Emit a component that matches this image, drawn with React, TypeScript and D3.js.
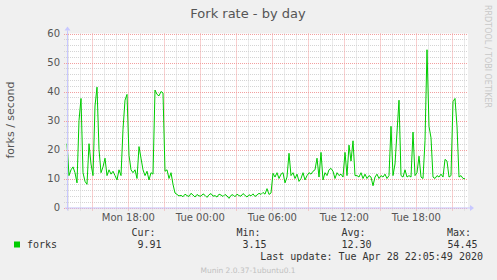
import React from "react";
import * as d3 from "d3";

// ---- data (10-minute samples starting Mon Apr 27 12:53) ----
const seriesName = "forks";
const startTime = Date.UTC(2020, 3, 27, 12, 53);
const stepMinutes = 10;
const spanMinutes = 2000;

const forksPart1 = [
  22, 11, 13, 14, 12, 8.5, 30, 37.6, 12, 9, 8, 22, 15, 11, 35, 41.5, 20, 12, 14, 17,
  11, 13, 11.5, 12.5, 11, 9.5, 13, 11, 27, 37, 39, 18, 13, 12, 13, 10, 21, 17, 13, 11,
  12.5, 9.5, 12, 11.5, 40.5, 39, 38.5, 40, 39.5, 12.5, 13, 10, 12, 8, 5, 4.5, 4,
];
const forksPart2 = [
  4.2, 3.7, 4.6, 4.1, 3.8, 4.9, 4.3, 3.6, 4.5, 4.0,
  3.9, 4.7, 4.2, 3.5, 4.4, 4.8, 3.9, 4.1, 3.6, 4.6,
  4.3, 3.8, 4.5, 4.0, 3.15, 4.2, 4.4, 3.7, 4.6, 4.1,
  3.9, 4.8, 4.2, 3.6, 4.4, 4.0, 4.7, 3.8, 4.3, 4.9,
  4.5, 5.2, 4.6,
];
const forksPart3 = [
  6.5, 4.5, 5, 11.8, 10.5, 12, 10, 11.5, 12, 8.5, 10.5, 18.7, 11, 12, 10, 11.5, 9, 10, 12, 9.5,
  11, 12, 11.5, 12.5, 13, 17, 10.5, 19, 9.5, 12, 11, 13, 13.5, 12.5, 10, 12, 11, 11.5, 10.5, 19,
  11, 21.5, 16, 23, 11, 11, 10.5, 12, 10, 11.5, 10, 11, 10.5, 7.5, 10.5, 11.5, 10, 11, 10.5, 11.5,
  10, 11, 28, 11, 15, 26, 37, 11, 10.5, 13, 10.5, 11, 10.5, 26, 11, 12, 17.7, 10.5, 10, 23,
  54.4, 28, 24, 10.5, 10, 11, 10.5, 11.5, 10.5, 16.6, 16, 10.5, 11, 36.5, 37.6, 28, 10.5, 11, 10, 9.91,
];
const forks = [...forksPart1, ...forksPart2, ...forksPart3];

const yTicks = [0, 10, 20, 30, 40, 50, 60];
const statLabels = ["Cur:", "Min:", "Avg:", "Max:"];
const statValues = ["9.91", "3.15", "12.30", "54.45"];
const title = "Fork rate - by day";
const yTitle = "forks / second";
const lastUpdate = "Last update: Tue Apr 28 22:05:49 2020";
const footer = "Munin 2.0.37-1ubuntu0.1";
const sideText = "RRDTOOL / TOBI OETIKER";

const W = 497;
const H = 280;
const left = 67;
const right = 467;
const top = 33.5;
const bottom = 207.5;

export default function App() {
  const x = d3
    .scaleUtc()
    .domain([new Date(startTime), new Date(startTime + spanMinutes * 60000)])
    .range([left, right]);
  const y = d3.scaleLinear().domain([0, 60]).range([bottom, top]);

  const points = forks.map((v, i) => ({ t: new Date(startTime + i * stepMinutes * 60000), v }));
  const line = d3
    .line<{ t: Date; v: number }>()
    .x((d) => x(d.t))
    .y((d) => y(d.v));

  const hourTicks = x.ticks(d3.utcHour.every(1)!);
  const majorTicks = hourTicks.filter((d) => d.getUTCHours() % 3 === 0);
  const minorTicks = hourTicks.filter((d) => d.getUTCHours() % 3 !== 0);
  const labelTicks = hourTicks.filter((d) => d.getUTCHours() % 6 === 0);
  const fmt = d3.utcFormat("%a %H:%M");

  const minorY = d3.range(0, 61, 2).filter((v) => v % 10 !== 0);

  const sans = "DejaVu Sans, sans-serif";
  const mono = "DejaVu Sans Mono, monospace";
  const axisColor = "#c8c8ff";
  const minorColor = "#d4d4d4";
  const majorColor = "#f2a0a0";

  const statRight = [155.5, 260.5, 365.5, 471];
  const valueRight = [161.5, 266.5, 371.5, 477.5];

  return (
    <div style={{ position: "fixed", left: 0, top: 0, width: W, height: H }}>
      <svg width={W} height={H} style={{ display: "block" }}>
        <rect x={0} y={0} width={W} height={H} fill="#f0f0f0" />
        <rect x={left} y={top} width={right - left + 1} height={bottom - top} fill="#ffffff" />

        {/* minor grid */}
        {minorY.map((v) => (
          <line key={"my" + v} x1={left - 3} x2={right + 1} y1={Math.round(y(v)) + 0.5} y2={Math.round(y(v)) + 0.5}
            stroke={minorColor} strokeDasharray="1,1" />
        ))}
        {minorTicks.map((d, i) => (
          <line key={"mx" + i} x1={Math.round(x(d)) + 0.5} x2={Math.round(x(d)) + 0.5} y1={top} y2={bottom + 3}
            stroke={minorColor} strokeDasharray="1,1" />
        ))}
        {/* major grid */}
        {yTicks.map((v) => (
          <line key={"My" + v} x1={left - 3} x2={right + 1} y1={Math.round(y(v)) + 0.5} y2={Math.round(y(v)) + 0.5}
            stroke={majorColor} strokeDasharray="1,1" />
        ))}
        {majorTicks.map((d, i) => (
          <line key={"Mx" + i} x1={Math.round(x(d)) + 0.5} x2={Math.round(x(d)) + 0.5} y1={top} y2={bottom + 3}
            stroke={majorColor} strokeDasharray="1,1" />
        ))}

        {/* data line */}
        <path d={line(points) || ""} fill="none" stroke="#00cc00" strokeWidth={1} />

        {/* axes */}
        <line x1={left - 2} x2={right + 3} y1={bottom + 0.5} y2={bottom + 0.5} stroke={axisColor} />
        <path d={`M${right + 3},${bottom - 2.5} L${right + 7},${bottom + 0.5} L${right + 3},${bottom + 3.5} Z`} fill={axisColor} />
        <line x1={left + 0.5} x2={left + 0.5} y1={bottom + 3} y2={top - 3} stroke={axisColor} />
        <path d={`M${left - 2.5},${top - 3} L${left + 0.5},${top - 7} L${left + 3.5},${top - 3} Z`} fill={axisColor} />

        {/* y tick labels */}
        {yTicks.map((v) => (
          <text key={"yl" + v} x={60} y={y(v) + 3.5} textAnchor="end" fontFamily={sans} fontSize={10} fill="#555">
            {v}
          </text>
        ))}
        {/* x tick labels */}
        {labelTicks.map((d, i) => (
          <text key={"xl" + i} x={x(d)} y={221} textAnchor="middle" fontFamily={sans} fontSize={10} fill="#555">
            {fmt(d)}
          </text>
        ))}

        {/* titles */}
        <text x={248} y={17.5} textAnchor="middle" fontFamily={sans} fontSize={13} fill="#555">
          {title}
        </text>
        <text transform={`translate(14,120) rotate(-90)`} textAnchor="middle" fontFamily={sans} fontSize={11} fill="#555">
          {yTitle}
        </text>
        <text transform={`translate(485,5) rotate(90)`} textAnchor="start" fontFamily={sans} fontSize={8} fill="#c8c8c8">
          {sideText}
        </text>

        {/* legend */}
        <rect x={14} y={241.5} width={6} height={6} fill="#00cc00" />
        <text x={27} y={248} fontFamily={mono} fontSize={10} fill="#333">
          {seriesName}
        </text>
        {statLabels.map((s, i) => (
          <text key={"sl" + i} x={statRight[i]} y={236} textAnchor="end" fontFamily={mono} fontSize={10} fill="#333">
            {s}
          </text>
        ))}
        {statValues.map((s, i) => (
          <text key={"sv" + i} x={valueRight[i]} y={248} textAnchor="end" fontFamily={mono} fontSize={10} fill="#333">
            {s}
          </text>
        ))}
        <text x={483} y={260} textAnchor="end" fontFamily={mono} fontSize={10} fill="#333">
          {lastUpdate}
        </text>
        <text x={248} y={273} textAnchor="middle" fontFamily={sans} fontSize={7.5} fill="#c0c0c0">
          {footer}
        </text>
      </svg>
    </div>
  );
}
